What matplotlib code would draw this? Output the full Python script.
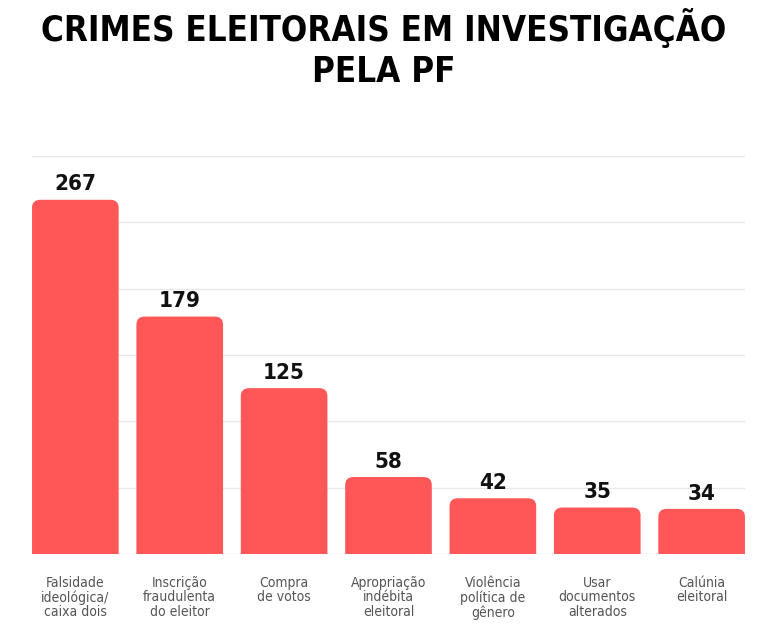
import matplotlib.pyplot as plt
from matplotlib.patches import FancyBboxPatch

categorias = [
    "Falsidade\nideológica/\ncaixa dois",
    "Inscrição\nfraudulenta\ndo eleitor",
    "Compra\nde votos",
    "Apropriação\nindébita\neleitoral",
    "Violência\npolítica de\ngênero",
    "Usar\ndocumentos\nalterados",
    "Calúnia\neleitoral",
]
valores = [267, 179, 125, 58, 42, 35, 34]

cor = '#ff5757'
fonte = ['DejaVu Sans']

fig = plt.figure(figsize=(7.68, 6.35), dpi=100)
ax = fig.add_axes([0.0417, 0.1276, 0.9283, 0.6267])

barras = ax.bar(range(len(valores)), valores, width=0.83, color='none')
ax.set_xlim(-0.415, len(valores) - 1 + 0.415)
ax.set_ylim(0, 300)

for b in barras:
    x, w, h = b.get_x(), b.get_width(), b.get_height()
    p = FancyBboxPatch((x, -20), w, h + 20,
                       boxstyle="round,pad=0,rounding_size=0.08",
                       mutation_aspect=75, facecolor=cor, edgecolor='none',
                       zorder=3)
    ax.add_patch(p)
    ax.text(x + w / 2, h + 4, str(int(h)), ha='center', va='bottom',
            fontsize=16, fontweight='heavy', family=fonte, stretch='condensed',
            color='#111111')

ax.set_yticks(range(0, 301, 50))
ax.yaxis.grid(True, color='#e8e8e8', linewidth=1)
ax.set_axisbelow(True)
ax.tick_params(axis='y', length=0, labelleft=False)
ax.tick_params(axis='x', length=0, pad=15.5)
ax.set_xticks(range(len(categorias)))
ax.set_xticklabels(categorias, fontsize=10, color='#555555', family=fonte,
                   stretch='condensed', linespacing=1.06, va='top')
for s in ax.spines.values():
    s.set_visible(False)

fig.text(0.5, 0.987, "CRIMES ELEITORAIS EM INVESTIGAÇÃO\nPELA PF", ha='center',
         va='top', fontsize=25, fontweight='bold', family=fonte,
         stretch='condensed', linespacing=1.25, color='#000000')

plt.savefig('out.png', dpi=100)
